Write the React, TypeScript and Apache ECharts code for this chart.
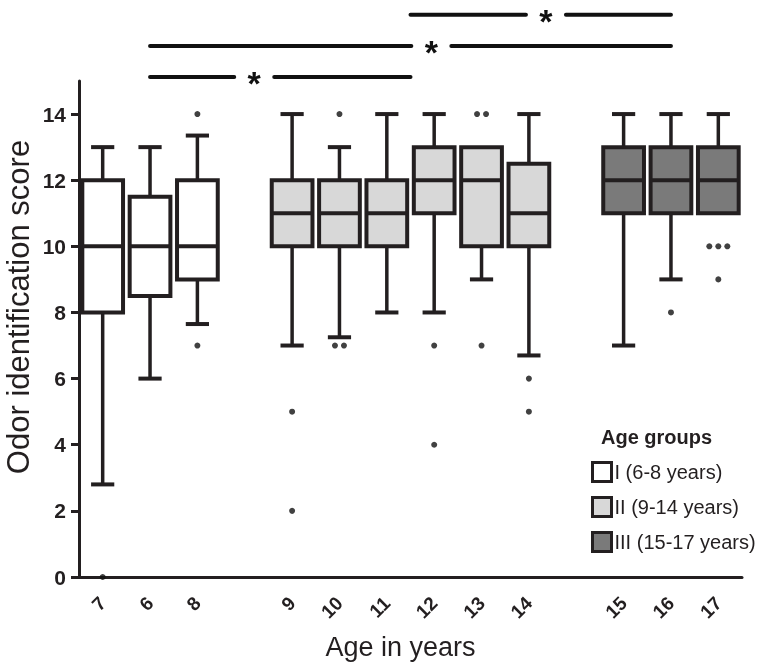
import React, { useEffect, useRef } from 'react';
import * as echarts from 'echarts';

// Category slots along the x axis (blank slots separate the age groups)
const categories = ['7', '6', '8', '', '9', '10', '11', '12', '13', '14', '', '15', '16', '17'];

// Box-plot statistics per age (same order as `ages`)
const ages = ['7', '6', '8', '9', '10', '11', '12', '13', '14', '15', '16', '17'];
const ageGroup = [0, 0, 0, 1, 1, 1, 1, 1, 1, 2, 2, 2];
const minVals = [2.8, 6, 7.65, 7, 7.25, 8, 8, 9, 6.7, 7, 9, 11];
const q1Vals = [8, 8.5, 9, 10, 10, 10, 11, 10, 10, 11, 11, 11];
const medianVals = [10, 10, 10, 11, 11, 11, 12, 12, 11, 12, 12, 12];
const q3Vals = [12, 11.5, 12, 12, 12, 12, 13, 13, 12.5, 13, 13, 13];
const maxVals = [13, 13, 13.35, 14, 13, 14, 14, 13, 14, 14, 14, 14];
const outlierVals: number[][] = [[0], [], [14, 7], [5, 2], [14, 7, 7], [], [7, 4], [14, 14, 7], [6, 5], [], [8], [10, 10, 10, 9]];

// Groups
const groupNames = ['I (6-8 years)', 'II (9-14 years)', 'III (15-17 years)'];
const groupColors = ['#ffffff', '#d8d8d8', '#7a7a7a'];

// Y axis ticks
const yTicks = [0, 2, 4, 6, 8, 10, 12, 14];

// Significance brackets: line spans between category positions, drawn above the plot
const sigFrom = [['6', '6'], ['6', '6'], ['11', '12']];
const sigTo = [['11', '12'], ['16', '16'], ['16', '16']];
const sigLevel = [15.12, 16.06, 17.0];
const sigLabel = ['*', '*', '*'];
const sigStarAt = [0.4, 0.54, 0.52];

const FONT = "'Liberation Sans', Arial, Helvetica, sans-serif";
const INK = '#231f20';

export default function App() {
  const ref = useRef<HTMLDivElement>(null);

  useEffect(() => {
    if (!ref.current) return;
    const chart = echarts.init(ref.current, null, { renderer: 'svg' });

    const boxData = (g: number) =>
      ages
        .map((a, i) => ({ a, i }))
        .filter(({ i }) => ageGroup[i] === g)
        .map(({ a, i }) => [categories.indexOf(a), minVals[i], q1Vals[i], medianVals[i], q3Vals[i], maxVals[i]]);

    const renderBox = (g: number) => (params: any, api: any) => {
      const xi = api.value(0);
      const [cx, yMin] = api.coord([xi, api.value(1)]);
      const yQ1 = api.coord([xi, api.value(2)])[1];
      const yMed = api.coord([xi, api.value(3)])[1];
      const yQ3 = api.coord([xi, api.value(4)])[1];
      const yMax = api.coord([xi, api.value(5)])[1];
      const band = api.size([1, 0])[0];
      const bw = band * 0.86;
      const cw = band * 0.49;
      const wStyle = { stroke: INK, lineWidth: 3.5, lineCap: 'butt' };
      const children: any[] = [];
      if (Math.abs(yMax - yQ3) > 0.5) {
        children.push({ type: 'line', shape: { x1: cx, y1: yQ3, x2: cx, y2: yMax }, style: wStyle });
        children.push({ type: 'line', shape: { x1: cx - cw / 2, y1: yMax, x2: cx + cw / 2, y2: yMax }, style: { stroke: INK, lineWidth: 4 } });
      }
      if (Math.abs(yMin - yQ1) > 0.5) {
        children.push({ type: 'line', shape: { x1: cx, y1: yQ1, x2: cx, y2: yMin }, style: wStyle });
        children.push({ type: 'line', shape: { x1: cx - cw / 2, y1: yMin, x2: cx + cw / 2, y2: yMin }, style: { stroke: INK, lineWidth: 4 } });
      }
      children.push({
        type: 'rect',
        shape: { x: cx - bw / 2, y: yQ3, width: bw, height: yQ1 - yQ3 },
        style: { fill: groupColors[g], stroke: INK, lineWidth: 4 },
      });
      children.push({ type: 'line', shape: { x1: cx - bw / 2, y1: yMed, x2: cx + bw / 2, y2: yMed }, style: { stroke: INK, lineWidth: 4 } });
      return { type: 'group', children };
    };

    const outlierData: any[] = [];
    ages.forEach((a, i) => {
      const vals = outlierVals[i];
      const counts: Record<string, number> = {};
      vals.forEach((v) => (counts[v] = (counts[v] || 0) + 1));
      const seen: Record<string, number> = {};
      vals.forEach((v) => {
        const n = counts[v];
        const k = seen[v] || 0;
        seen[v] = k + 1;
        outlierData.push({ value: [categories.indexOf(a), v], symbolOffset: [(k - (n - 1) / 2) * 9, 0] });
      });
    });

    const sigData = sigLevel.map((lv, i) => [categories.indexOf(sigFrom[i][0]), lv]);
    const renderSig = (params: any, api: any) => {
      const i = params.dataIndex;
      const lv = sigLevel[i];
      const px = (c: string) => api.coord([categories.indexOf(c), lv]);
      const y = px(sigFrom[i][0])[1];
      const x1 = (px(sigFrom[i][0])[0] + px(sigFrom[i][1])[0]) / 2;
      const x2 = (px(sigTo[i][0])[0] + px(sigTo[i][1])[0]) / 2;
      const sx = x1 + (x2 - x1) * sigStarAt[i];
      const gap = 20;
      const ls = { stroke: '#111', lineWidth: 4, lineCap: 'round' };
      return {
        type: 'group',
        children: [
          { type: 'line', shape: { x1, y1: y, x2: sx - gap, y2: y }, style: ls },
          { type: 'line', shape: { x1: sx + gap, y1: y, x2, y2: y }, style: ls },
          {
            type: 'text',
            style: {
              text: sigLabel[i], x: sx, y: y + 6, fill: '#111', fontSize: 34, fontWeight: 'bold',
              fontFamily: FONT, align: 'center', verticalAlign: 'middle',
            },
          },
        ],
      };
    };

    chart.setOption({
      animation: false,
      title: {
        text: 'Age groups',
        left: 601,
        top: 427,
        padding: 0,
        textStyle: { fontFamily: FONT, fontSize: 20, fontWeight: 'bold', color: INK },
      },
      legend: {
        orient: 'vertical',
        left: 591,
        top: 461,
        padding: 0,
        itemWidth: 19,
        itemHeight: 19,
        itemGap: 13,
        icon: 'rect',
        selectedMode: false,
        textStyle: { fontFamily: FONT, fontSize: 20, color: INK, padding: [0, 0, 0, -2] },
        data: groupNames.map((n, g) => ({
          name: n,
          icon: 'rect',
          itemStyle: { color: groupColors[g], borderColor: INK, borderWidth: 3 },
        })),
      },
      grid: { left: 79, right: 28, top: 81, bottom: 93, containLabel: false, outerBoundsMode: 'none' },
      xAxis: {
        type: 'category',
        data: categories,
        boundaryGap: true,
        name: 'Age in years',
        nameLocation: 'middle',
        nameGap: 56,
        nameTextStyle: { fontFamily: FONT, fontSize: 27, color: INK, padding: [0, 20, 0, 0] },
        axisLine: { lineStyle: { color: INK, width: 3 } },
        axisTick: { alignWithLabel: true, interval: 0, length: 9, lineStyle: { color: INK, width: 3 } },
        axisLabel: {
          interval: 0,
          rotate: 45,
          margin: 23,
          fontFamily: FONT,
          fontSize: 19,
          fontWeight: 'bold',
          color: INK,
        },
        splitLine: { show: false },
      },
      yAxis: {
        type: 'value',
        min: 0,
        max: 15,
        interval: 1,
        name: 'Odor identification score',
        nameLocation: 'middle',
        nameGap: 45,
        nameMoveOverlap: false,
        nameTextStyle: { fontFamily: FONT, fontSize: 31, color: INK, padding: [0, 0, 0, 44] },
        axisLine: { show: true, lineStyle: { color: INK, width: 3 } },
        axisTick: { show: true, length: 8, customValues: yTicks, lineStyle: { color: INK, width: 3 } },
        axisLabel: {
          customValues: yTicks,
          margin: 13,
          fontFamily: FONT,
          fontSize: 21,
          fontWeight: 'bold',
          color: INK,
        },
        splitLine: { show: false },
      },
      series: [
        ...groupNames.map((n, g) => ({
          name: n,
          type: 'custom',
          renderItem: renderBox(g),
          itemStyle: { color: groupColors[g], borderColor: INK, borderWidth: 3 },
          encode: { x: 0, y: [1, 2, 3, 4, 5] },
          data: boxData(g),
          z: 2,
        })),
        {
          name: 'outliers',
          type: 'scatter',
          symbol: 'circle',
          symbolSize: 6,
          itemStyle: { color: '#111' },
          data: outlierData,
          z: 3,
        },
        {
          name: 'significance',
          type: 'custom',
          clip: false,
          renderItem: renderSig,
          encode: { x: 0, y: 1 },
          data: sigData,
          z: 4,
        },
      ],
    });

    return () => chart.dispose();
  }, []);

  return <div ref={ref} style={{ position: 'fixed', left: 0, top: 0, width: 770, height: 670 }} />;
}
